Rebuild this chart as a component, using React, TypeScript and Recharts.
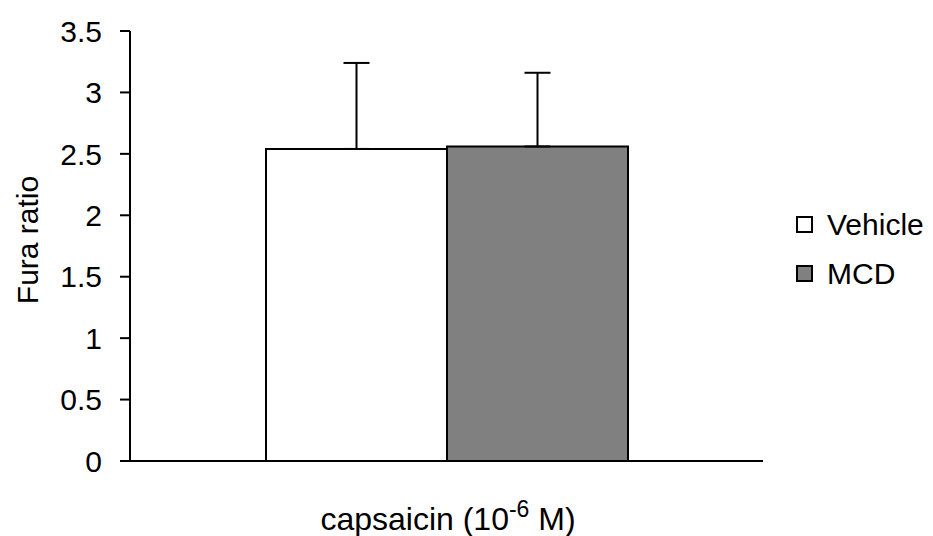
import { Bar, BarChart, ErrorBar, XAxis, YAxis } from "recharts";

// one stimulus, two treatment groups; mean with upward SEM only
const categories = ["capsaicin"];
const seriesNames = ["Vehicle", "MCD"];
const seriesColors = ["#ffffff", "#808080"];
const vehicleMean = [2.54];
const vehicleErr = [0.7];
const mcdMean = [2.56];
const mcdErr = [0.6];
const yTicks = [0, 0.5, 1, 1.5, 2, 2.5, 3, 3.5];

const FONT = "'Liberation Sans', Arial, sans-serif";

const data = categories.map((c, i) => ({
    name: c,
    vehicle: vehicleMean[i],
    vehicleErr: [0, vehicleErr[i]],
    mcd: mcdMean[i],
    mcdErr: [0, mcdErr[i]],
}));

function LegendBox() {
    return (
        <div
            style={{
                position: "absolute",
                left: 796,
                top: 200,
                fontFamily: FONT,
                fontSize: 30,
                color: "#000",
                lineHeight: 1,
            }}
        >
            {seriesNames.map((n, i) => (
                <div key={n} style={{ display: "flex", alignItems: "center", height: 49 }}>
                    <span
                        style={{
                            width: 13,
                            height: 13,
                            border: "2px solid #000",
                            background: seriesColors[i],
                            marginRight: 14,
                        }}
                    />
                    <span>{n}</span>
                </div>
            ))}
        </div>
    );
}

export default function App() {
    return (
        <div style={{ position: "absolute", left: 0, top: 0, width: 933, height: 536, background: "#fff" }}>
            <BarChart
                width={933}
                height={536}
                data={data}
                margin={{ top: 31, right: 170, left: 0, bottom: 45 }}
                barGap={0}
                style={{ fontFamily: FONT }}
            >
                <XAxis
                    dataKey="name"
                    tick={false}
                    tickLine={false}
                    axisLine={{ stroke: "#000", strokeWidth: 2 }}
                    height={30}
                    label={{
                        content: () => (
                            <text x={448} y={530} textAnchor="middle" fontSize={32} fill="#000" fontFamily={FONT}>
                                capsaicin (10
                                <tspan fontSize={23} dy={-13}>
                                    -6
                                </tspan>
                                <tspan dy={13}> M)</tspan>
                            </text>
                        ),
                    }}
                />
                <YAxis
                    width={130}
                    domain={[0, 3.5]}
                    ticks={yTicks}
                    interval={0}
                    tick={{ fill: "#000", fontSize: 30, fontFamily: FONT }}
                    tickSize={10}
                    tickMargin={18}
                    tickLine={{ stroke: "#000", strokeWidth: 2 }}
                    axisLine={{ stroke: "#000", strokeWidth: 2 }}
                    label={{
                        content: () => (
                            <text
                                x={27}
                                y={240}
                                transform="rotate(-90 27 240)"
                                textAnchor="middle"
                                dominantBaseline="central"
                                fontSize={30}
                                fill="#000"
                                fontFamily={FONT}
                            >
                                Fura ratio
                            </text>
                        ),
                    }}
                />
                <Bar
                    dataKey="vehicle"
                    name={seriesNames[0]}
                    fill={seriesColors[0]}
                    stroke="#000"
                    strokeWidth={2}
                    barSize={181}
                    isAnimationActive={false}
                >
                    <ErrorBar dataKey="vehicleErr" width={13} stroke="#000" strokeWidth={2} direction="y" />
                </Bar>
                <Bar
                    dataKey="mcd"
                    name={seriesNames[1]}
                    fill={seriesColors[1]}
                    stroke="#000"
                    strokeWidth={2}
                    barSize={181}
                    isAnimationActive={false}
                >
                    <ErrorBar dataKey="mcdErr" width={13} stroke="#000" strokeWidth={2} direction="y" />
                </Bar>
            </BarChart>
            <LegendBox />
        </div>
    );
}
